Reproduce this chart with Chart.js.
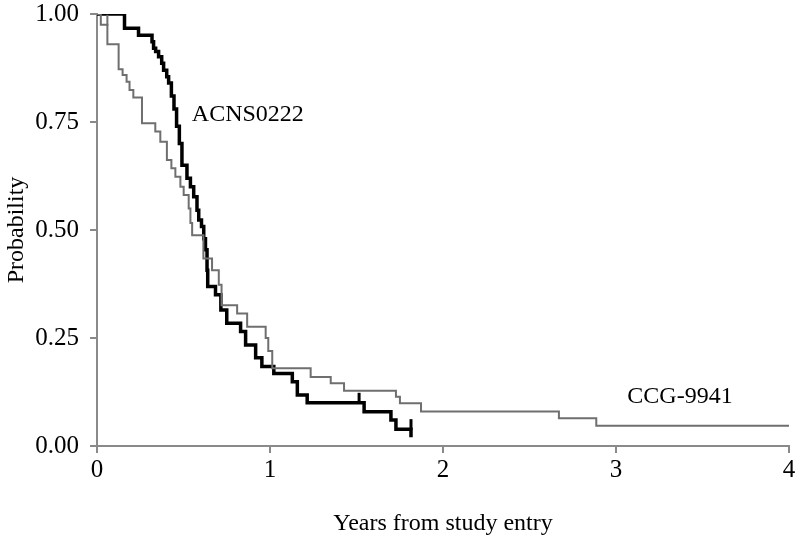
<!DOCTYPE html>
<html>
<head>
<meta charset="utf-8">
<script src="https://cdn.jsdelivr.net/npm/chart.js@4.4.1/dist/chart.umd.min.js"></script>
<style>
  html, body { margin: 0; padding: 0; background: #fff; }
  #wrap { width: 800px; height: 538px; }
</style>
</head>
<body>
<div id="wrap"><canvas id="km"></canvas></div>
<script>
// ACNS0222 (black) - event times (years) and survival after each step
const acnsTimes = [0, 0.159, 0.240, 0.318, 0.327, 0.339, 0.356, 0.374, 0.385, 0.403, 0.414, 0.430, 0.445, 0.460, 0.476, 0.491, 0.520, 0.540, 0.559, 0.578, 0.588, 0.604, 0.617, 0.627, 0.636, 0.640, 0.685, 0.716, 0.750, 0.830, 0.859, 0.917, 0.953, 1.022, 1.129, 1.158, 1.215, 1.544, 1.699, 1.728, 1.815];
const acnsSurv  = [1.0, 0.967, 0.951, 0.936, 0.921, 0.913, 0.901, 0.886, 0.870, 0.855, 0.840, 0.810, 0.780, 0.740, 0.700, 0.650, 0.620, 0.600, 0.577, 0.546, 0.523, 0.508, 0.480, 0.454, 0.407, 0.369, 0.350, 0.315, 0.284, 0.265, 0.234, 0.204, 0.184, 0.168, 0.149, 0.118, 0.100, 0.079, 0.060, 0.039, 0.020];
const acnsCensorTimes = [1.515, 1.815];
const acnsCensorSurv  = [0.100, 0.039];

// CCG-9941 (grey)
const ccgTimes = [0, 0.022, 0.060, 0.125, 0.148, 0.171, 0.188, 0.210, 0.260, 0.337, 0.366, 0.404, 0.430, 0.453, 0.482, 0.501, 0.530, 0.540, 0.550, 0.615, 0.665, 0.704, 0.720, 0.810, 0.868, 0.975, 0.990, 1.013, 1.235, 1.351, 1.428, 1.728, 1.751, 1.873, 2.670, 2.886, 4.0];
const ccgSurv  = [1.0, 0.975, 0.930, 0.872, 0.859, 0.843, 0.824, 0.807, 0.747, 0.728, 0.704, 0.662, 0.643, 0.623, 0.600, 0.581, 0.550, 0.516, 0.488, 0.434, 0.407, 0.373, 0.326, 0.307, 0.276, 0.250, 0.220, 0.180, 0.160, 0.145, 0.128, 0.114, 0.099, 0.080, 0.064, 0.047, 0.047];
const ccgCensorTimes = [0.060];
const ccgCensorSurv  = [0.975];

const xTicks = [0, 1, 2, 3, 4];
const yTicks = [0, 0.25, 0.5, 0.75, 1.0];

const curveLabels = [
  { text: 'ACNS0222', x: 0.872, y: 0.766 },
  { text: 'CCG-9941', x: 3.37, y: 0.113 }
];

const serif = "'Liberation Serif', 'Times New Roman', serif";
const axisGrey = '#8a8a8a';
const black = '#000000';
const grey = '#6f6f6f';

function pts(xs, ys) {
  return xs.map((x, i) => ({ x: x, y: ys[i] }));
}

const censorPlugin = {
  id: 'censor',
  afterDatasetsDraw(chart) {
    const ctx = chart.ctx;
    const xs = chart.scales.x, ys = chart.scales.y;
    const sets = [
      { t: acnsCensorTimes, s: acnsCensorSurv, color: black, w: 3 },
      { t: ccgCensorTimes, s: ccgCensorSurv, color: grey, w: 2 }
    ];
    ctx.save();
    sets.forEach(set => {
      ctx.strokeStyle = set.color;
      ctx.lineWidth = set.w;
      set.t.forEach((t, i) => {
        const px = xs.getPixelForValue(t);
        const py = ys.getPixelForValue(set.s[i]);
        ctx.beginPath();
        ctx.moveTo(px, py + 1);
        ctx.lineTo(px, py - 10);
        ctx.stroke();
      });
    });
    ctx.restore();
  }
};

const labelPlugin = {
  id: 'curveLabels',
  afterDatasetsDraw(chart) {
    const ctx = chart.ctx;
    ctx.save();
    ctx.font = '24px ' + serif;
    ctx.fillStyle = '#000';
    ctx.textAlign = 'center';
    ctx.textBaseline = 'middle';
    curveLabels.forEach(l => {
      ctx.fillText(l.text, chart.scales.x.getPixelForValue(l.x), chart.scales.y.getPixelForValue(l.y));
    });
    ctx.restore();
  }
};

new Chart(document.getElementById('km'), {
  type: 'scatter',
  data: {
    datasets: [
      {
        label: 'CCG-9941',
        data: pts(ccgTimes, ccgSurv),
        showLine: true,
        stepped: 'before',
        borderColor: grey,
        borderWidth: 2,
        pointRadius: 0,
        fill: false
      },
      {
        label: 'ACNS0222',
        data: pts(acnsTimes, acnsSurv),
        showLine: true,
        stepped: 'before',
        borderColor: black,
        borderWidth: 3.5,
        pointRadius: 0,
        fill: false
      }
    ]
  },
  options: {
    responsive: true,
    maintainAspectRatio: false,
    animation: false,
    layout: { padding: { top: 14, right: 11, left: 0, bottom: 0 } },
    plugins: {
      legend: { display: false },
      tooltip: { enabled: false }
    },
    scales: {
      x: {
        type: 'linear',
        min: 0,
        max: 4,
        afterBuildTicks(scale) { scale.ticks = xTicks.map(v => ({ value: v })); },
        afterFit(scale) { scale.height = 92; scale.paddingRight = 0; scale.paddingLeft = 0; },
        grid: { drawOnChartArea: false, drawTicks: true, tickLength: 7, color: axisGrey, lineWidth: 2 },
        border: { color: axisGrey, width: 2 },
        ticks: { color: '#000', font: { family: serif, size: 25 }, padding: 2 },
        title: {
          display: true,
          text: 'Years from study entry',
          color: '#000',
          font: { family: serif, size: 24 },
          padding: { top: 18, bottom: 0 }
        }
      },
      y: {
        type: 'linear',
        min: 0,
        max: 1,
        afterBuildTicks(scale) { scale.ticks = yTicks.map(v => ({ value: v })); },
        afterFit(scale) { scale.width = 97; scale.paddingTop = 0; scale.paddingBottom = 0; },
        grid: { drawOnChartArea: false, drawTicks: true, tickLength: 7, color: axisGrey, lineWidth: 2 },
        border: { color: axisGrey, width: 2 },
        ticks: {
          color: '#000',
          font: { family: serif, size: 25 },
          padding: 11,
          callback: v => v.toFixed(2)
        },
        title: {
          display: true,
          text: 'Probability',
          color: '#000',
          font: { family: serif, size: 24 },
          padding: { top: 2, bottom: 0 }
        }
      }
    }
  },
  plugins: [censorPlugin, labelPlugin]
});
</script>
</body>
</html>
